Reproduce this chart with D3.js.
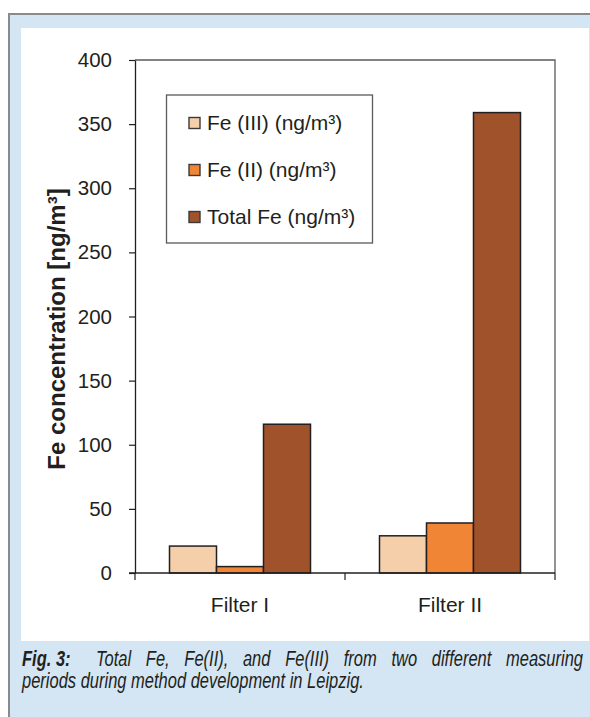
<!DOCTYPE html>
<html>
<head>
<meta charset="utf-8">
<script src="https://cdn.jsdelivr.net/npm/d3@7"></script>
<style>
  html, body { margin: 0; padding: 0; background: #ffffff; }
  svg { display: block; }
  text { font-family: "Liberation Sans", Arial, Helvetica, sans-serif; fill: #231f20; }
  .caption { font-style: italic; }
</style>
</head>
<body>
<svg id="fig" width="590" height="717"></svg>
<script>
// Fe species measured on two filters (ng/m³)
const categories = ["Filter I", "Filter II"];
const seriesNames = ["Fe (III) (ng/m³)", "Fe (II) (ng/m³)", "Total Fe (ng/m³)"];
const feIII = [21, 29];
const feII = [5, 39];
const totalFe = [116, 359];
const seriesValues = [feIII, feII, totalFe];
const seriesColors = ["#f5cfaa", "#ef8535", "#a0532b"];
const yTicks = [0, 50, 100, 150, 200, 250, 300, 350, 400];
const yTitle = "Fe concentration [ng/m³]";
const captionHead = "Fig. 3:";
const captionLine1 = "Total Fe, Fe(II), and Fe(III) from two different measuring";
const captionLine2 = "periods during method development in Leipzig.";

const svg = d3.select("#fig");
const W = 590, H = 717;

// Panel: light blue frame with a grey rule on the top and left edges
svg.append("rect").attr("x", 9).attr("y", 14).attr("width", W - 9).attr("height", H - 14).attr("fill", "#d4e5f4");
svg.append("rect").attr("x", 21).attr("y", 28).attr("width", 568).attr("height", 613).attr("fill", "#ffffff");
svg.append("line").attr("x1", 8).attr("x2", W).attr("y1", 14).attr("y2", 14).attr("stroke", "#8a8a8a").attr("stroke-width", 2);
svg.append("line").attr("x1", 9).attr("x2", 9).attr("y1", 13).attr("y2", H).attr("stroke", "#8a8a8a").attr("stroke-width", 2);

// Plot area
const plot = { left: 135, right: 555, top: 60, bottom: 573 };
const x0 = d3.scaleBand().domain(categories).range([plot.left, plot.right]).paddingInner(0).paddingOuter(0);
const barW = 47;
const x1 = d3.scaleBand().domain(d3.range(seriesNames.length)).range([0, barW * seriesNames.length]);
const y = d3.scaleLinear().domain([0, 400]).range([plot.bottom, plot.top]);

const g = svg.append("g");

// top and right frame of the plot area
g.append("path")
  .attr("d", `M${plot.left},${plot.top}H${plot.right}V${plot.bottom}`)
  .attr("fill", "none").attr("stroke", "#5a5a5a").attr("stroke-width", 1.3);

// bars
const groupW = barW * seriesNames.length;
categories.forEach((cat, ci) => {
  const gx = x0(cat) + (x0.bandwidth() - groupW) / 2;
  seriesValues.forEach((vals, si) => {
    g.append("rect")
      .attr("x", gx + x1(si))
      .attr("y", y(vals[ci]))
      .attr("width", x1.bandwidth())
      .attr("height", y(0) - y(vals[ci]))
      .attr("fill", seriesColors[si])
      .attr("stroke", "#231f20")
      .attr("stroke-width", 1.5);
  });
});

// y axis
const yAxis = d3.axisLeft(y).tickValues(yTicks).tickSize(6).tickPadding(17).tickSizeOuter(0);
const ya = g.append("g").attr("transform", `translate(${plot.left},0)`).call(yAxis);
ya.select(".domain").attr("stroke", "#231f20").attr("stroke-width", 1.3);
ya.selectAll(".tick line").attr("stroke", "#231f20").attr("stroke-width", 1.2);
ya.selectAll(".tick text").attr("font-size", 20.5).attr("fill", "#231f20");

// x axis with ticks at category boundaries
const xa = g.append("g").attr("transform", `translate(0,${plot.bottom})`);
xa.append("line").attr("x1", plot.left - 6).attr("x2", plot.right).attr("y1", 0).attr("y2", 0)
  .attr("stroke", "#231f20").attr("stroke-width", 1.3);
const boundaries = [plot.left].concat(categories.map(c => x0(c) + x0.bandwidth()));
xa.selectAll("line.bt").data(boundaries).join("line").attr("class", "bt")
  .attr("x1", d => d).attr("x2", d => d).attr("y1", 0).attr("y2", 7)
  .attr("stroke", "#231f20").attr("stroke-width", 1.2);
xa.selectAll("text.cat").data(categories).join("text").attr("class", "cat")
  .attr("x", d => x0(d) + x0.bandwidth() / 2).attr("y", 39)
  .attr("text-anchor", "middle").attr("font-size", 21).text(d => d);

// y axis title
svg.append("text")
  .attr("transform", "translate(65,329) rotate(-90)")
  .attr("text-anchor", "middle").attr("font-weight", "bold").attr("font-size", 24)
  .text(yTitle);

// legend
const lg = svg.append("g");
lg.append("rect").attr("x", 166.5).attr("y", 95).attr("width", 206).attr("height", 148)
  .attr("fill", "#ffffff").attr("stroke", "#5a5a5a").attr("stroke-width", 1.3);
const rowY = [123, 170, 217];
seriesNames.forEach((name, i) => {
  lg.append("rect").attr("x", 189).attr("y", rowY[i] - 5.5).attr("width", 11).attr("height", 11)
    .attr("fill", seriesColors[i]).attr("stroke", "#3a3a3a").attr("stroke-width", 1.4);
  lg.append("text").attr("x", 207).attr("y", rowY[i] + 7).attr("font-size", 21).text(name);
});

// caption: condensed italic, emulated by a horizontal squeeze of the regular face
const capSize = 21.5;
const cap = svg.append("g");
const line2 = cap.append("text").attr("class", "caption").attr("font-size", capSize).text(captionLine2);
const sx = 342 / line2.node().getComputedTextLength();
line2.attr("transform", `translate(22,688) scale(${sx},1)`);

const head = cap.append("text").attr("class", "caption").attr("font-size", capSize)
  .attr("font-weight", "bold").attr("transform", `translate(22,666) scale(${sx},1)`).text(captionHead);
const body1 = cap.append("text").attr("class", "caption").attr("font-size", capSize)
  .attr("transform", `translate(96,666) scale(${sx},1)`).text(captionLine1);
// justify the first line so it ends at the right margin
const natural = body1.node().getComputedTextLength();
const gaps = captionLine1.split(" ").length - 1;
const target = (583 - 96) / sx;
body1.attr("word-spacing", Math.max(0, (target - natural) / gaps));
</script>
</body>
</html>
